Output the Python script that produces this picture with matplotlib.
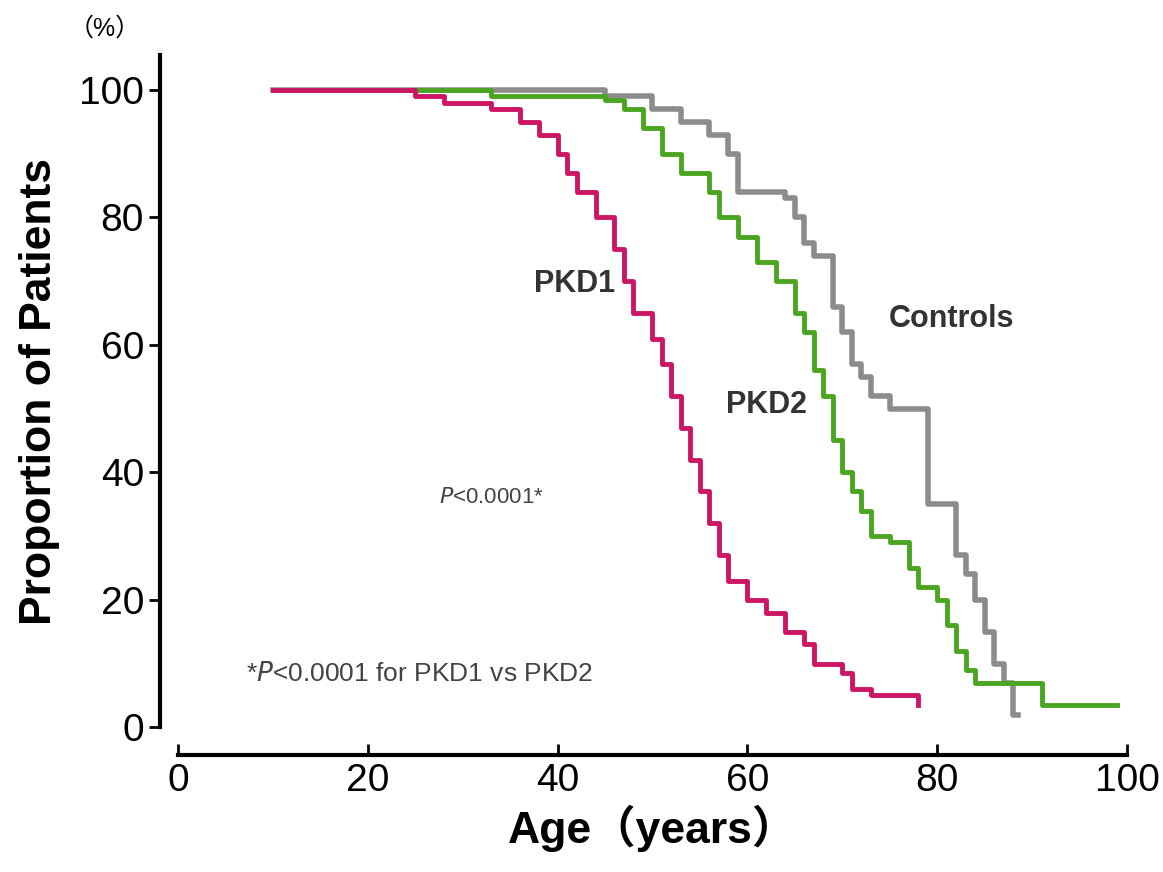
import matplotlib.pyplot as plt

plt.rcParams['font.family'] = ['Liberation Sans', 'Noto Sans CJK JP', 'DejaVu Sans']

# step data (age, % surviving)
pkd1_age = [10, 25, 28, 33, 36, 38, 40, 41, 42, 44, 46, 47, 48, 50, 51, 52, 53, 54, 55, 56, 57, 58, 60, 62, 64, 66, 67, 70, 71, 73, 78]
pkd1_val = [100, 99, 98, 97, 95, 93, 90, 87, 84, 80, 75, 70, 65, 61, 57, 52, 47, 42, 37, 32, 27, 23, 20, 18, 15, 13, 10, 8.5, 6, 5, 3.5]

pkd2_age = [10, 33, 45, 47, 49, 51, 53, 56, 57, 59, 61, 63, 65, 66, 67, 68, 69, 70, 71, 72, 73, 75, 77, 78, 80, 81, 82, 83, 84, 91, 99]
pkd2_val = [100, 99, 98.5, 97, 94, 90, 87, 84, 80, 77, 73, 70, 65, 62, 56, 52, 45, 40, 37, 34, 30, 29, 25, 22, 20, 16, 12, 9, 7, 3.5, 3.5]

ctrl_age = [10, 45, 50, 53, 56, 58, 59, 64, 65, 66, 67, 69, 70, 71, 72, 73, 75, 79, 82, 83, 84, 85, 86, 87, 88, 88.5]
ctrl_val = [100, 99, 97, 95, 93, 90, 84, 83, 80, 76, 74, 66, 62, 57, 55, 52, 50, 35, 27, 24, 20, 15, 10, 7, 2, 2]

fig = plt.figure(figsize=(11.63, 8.72), dpi=100)
ax = fig.add_axes([0.153, 0.166, 0.816, 0.771])

ax.step(ctrl_age, ctrl_val, where='post', color='#8c8c8c', lw=4)
ax.step(pkd2_age, pkd2_val, where='post', color='#4aa520', lw=3.5)
ax.step(pkd1_age, pkd1_val, where='post', color='#cc1565', lw=3.5)

ax.set_xlim(0, 100)
ax.set_ylim(0, 105.5)
ax.set_yticks([0, 20, 40, 60, 80, 100])
ax.set_xticks([0, 20, 40, 60, 80, 100])
for s in ['top', 'right']:
    ax.spines[s].set_visible(False)
ax.spines['left'].set_linewidth(3)
ax.spines['bottom'].set_linewidth(3)
ax.spines['bottom'].set_position(('outward', 20))
ax.spines['left'].set_position(('outward', 13))
ax.spines['left'].set_bounds(0, 105.5)
ax.tick_params(axis='both', labelsize=28, width=2, length=8)
ax.tick_params(axis='x', direction='in', pad=6)

ax.set_xlabel('Age\uff08years\uff09', fontsize=32, fontweight='bold', labelpad=4)
ax.set_ylabel('Proportion of Patients', fontsize=32, fontweight='bold', labelpad=14)
fig.text(0.09, 0.967, '\uff08%\uff09', fontsize=18, ha='center', va='center')

ax.text(41.8, 69.5, 'PKD1', fontsize=22, fontweight='bold', color='#333333', ha='center', va='center')
ax.text(62, 50.5, 'PKD2', fontsize=22, fontweight='bold', color='#333333', ha='center', va='center')
ax.text(81.5, 64, 'Controls', fontsize=22, fontweight='bold', color='#333333', ha='center', va='center')
ax.text(33, 36, '$P$<0.0001*', fontsize=16, color='#444444', ha='center', va='center')
ax.text(25.5, 8.3, '*$P$<0.0001 for PKD1 vs PKD2', fontsize=19, color='#444444', ha='center', va='center')

fig.savefig('out.png', dpi=100)
